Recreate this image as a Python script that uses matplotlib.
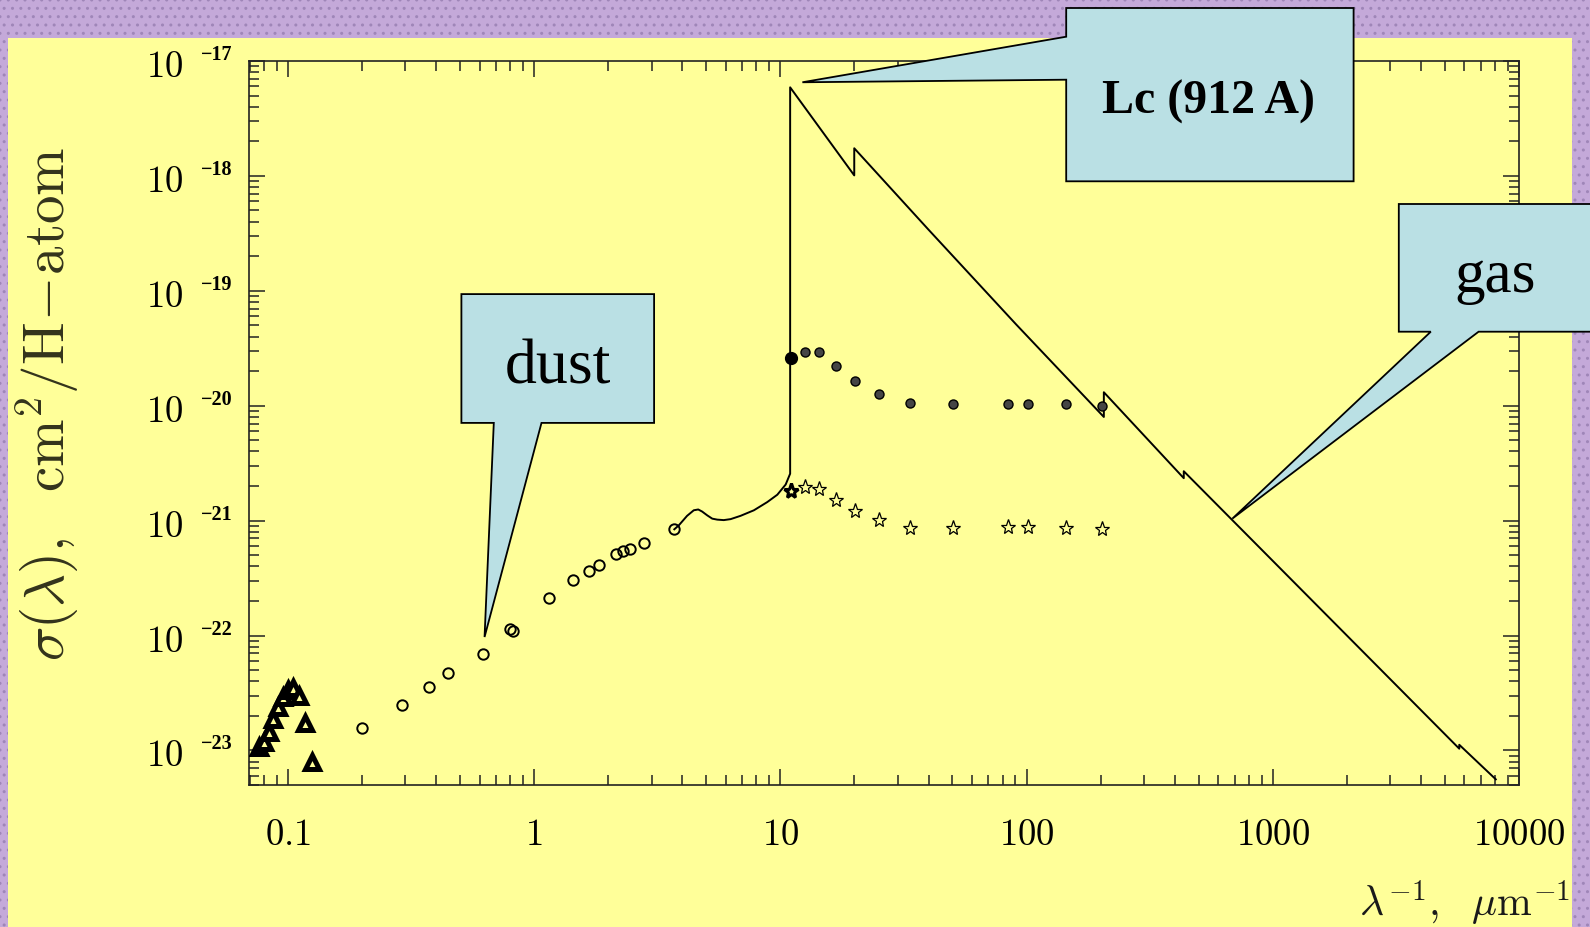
import numpy as np
import matplotlib
matplotlib.use('Agg')
import matplotlib.pyplot as plt
from matplotlib.patches import Rectangle, Polygon
from matplotlib.ticker import LogLocator, NullFormatter
from matplotlib.transforms import blended_transform_factory, offset_copy

plt.rcParams['mathtext.fontset'] = 'cm'

# --- data ----------------------------------------------------------------
# IR emission bump (triangles)
ir_x = [0.0762, 0.0798, 0.0837, 0.0869, 0.0914, 0.0955, 0.1000, 0.1048, 0.1106, 0.1178, 0.1248]
ir_y = [1.08e-23, 1.19e-23, 1.46e-23, 1.87e-23, 2.40e-23, 2.93e-23, 3.34e-23, 3.51e-23,
        2.99e-23, 1.72e-23, 7.98e-24]

# dust extinction, IR to UV (open circles)
ext_x = [0.1995, 0.2896, 0.375, 0.448, 0.618, 0.798, 0.819, 1.144, 1.432, 1.675, 1.827,
         2.157, 2.296, 2.443, 2.786, 3.71]
ext_y = [1.58e-23, 2.48e-23, 3.53e-23, 4.74e-23, 6.97e-23, 1.13e-22, 1.10e-22, 2.10e-22,
         3.07e-22, 3.62e-22, 4.08e-22, 5.09e-22, 5.41e-22, 5.71e-22, 6.35e-22, 8.4e-22]

# far-UV / soft X-ray dust points
xuv_x = [11.09, 12.6, 14.4, 16.8, 20.1, 25.2, 33.7, 50.4, 84.1, 100.9, 144.5, 202.5]
dot_y = [2.60e-20, 2.95e-20, 2.91e-20, 2.23e-20, 1.65e-20, 1.27e-20, 1.05e-20, 1.03e-20,
         1.04e-20, 1.04e-20, 1.03e-20, 9.9e-21]
star_y = [1.81e-21, 1.96e-21, 1.90e-21, 1.52e-21, 1.21e-21, 1.01e-21, 8.7e-22, 8.7e-22,
          8.8e-22, 8.8e-22, 8.7e-22, 8.5e-22]

# UV dust curve (2175 A bump) joined to the gas photoabsorption curve
# (edges: H 912 A, He, C, O, Fe)
curve_x = [3.71, 3.87, 4.18, 4.45, 4.64, 4.81, 5.05, 5.29, 5.54, 5.89, 6.28, 6.89, 7.81,
           8.85, 9.72, 10.51, 10.96, 10.96,
           19.96, 19.96, 40, 90.7, 206, 206, 435, 435, 5720, 5720, 8050]
curve_y = [8.4e-22, 9.1e-22, 1.10e-21, 1.23e-21, 1.25e-21, 1.20e-21, 1.11e-21, 1.04e-21,
           1.02e-21, 1.01e-21, 1.03e-21, 1.10e-21, 1.23e-21, 1.45e-21, 1.68e-21, 2.06e-21,
           2.56e-21, 5.9e-18,
           1.01e-18, 1.74e-18, 3.4e-19, 5.1e-20, 7.98e-21, 1.31e-20, 2.34e-21, 2.69e-21,
           1.035e-23, 1.12e-23, 5.6e-24]

x_ticks = [0.1, 1, 10, 100, 1000, 10000]
x_tick_labels = ['0.1', '1', '10', '100', '1000', '10000']
y_exponents = [-17, -18, -19, -20, -21, -22, -23]

# callouts: text and the data point each one points at
callouts = ['dust', 'Lc (912 A)', 'gas']
callout_tips = [(0.629, 9.7e-23), (12.29, 6.53e-18), (685, 1.04e-21)]

W, H = 1590, 928
YELLOW = '#ffff99'
BLUE = '#bae0e4'
PURPLE = '#c4a9d9'


def fpx(x, y):
    # pixel position (from top-left) -> figure fraction
    return (x / W, 1 - y / H)


fig = plt.figure(figsize=(W / 100, H / 100), dpi=100)
fig.patch.set_facecolor(PURPLE)

# dotted purple border and the yellow slide panel
fig.add_artist(Rectangle((0, 0), 1, 1, transform=fig.transFigure, facecolor=PURPLE,
                         edgecolor='#9f86b8', hatch='..', linewidth=0, zorder=-3))
x0, y0 = fpx(8, 928)
x1, y1 = fpx(1572, 39)
fig.add_artist(Rectangle((x0, y0), x1 - x0, y1 - y0, transform=fig.transFigure,
                         facecolor=YELLOW, edgecolor='none', zorder=-2))

ax = fig.add_axes([249 / W, 1 - 786 / H, 1270 / W, 724 / H])
ax.patch.set_alpha(0)
ax.set_xscale('log')
ax.set_yscale('log')
ax.set_xlim(0.0695, 10000)
ax.set_ylim(5e-24, 1e-17)

ax.plot(curve_x, curve_y, color='black', lw=1.4, zorder=3)
ax.plot(ir_x, ir_y, ls='none', marker='^', ms=9.5, mfc=YELLOW, mec='black', mew=3.6, zorder=4)
ax.plot(ext_x, ext_y, ls='none', marker='o', ms=7.5, mfc='none', mec='black', mew=1.4, zorder=4)
ax.plot(xuv_x, dot_y, ls='none', marker='o', ms=6.5, mfc='#454545', mec='black', mew=1.0, zorder=4)
ax.plot(xuv_x[:1], dot_y[:1], ls='none', marker='o', ms=8.5, mfc='black', mec='black', zorder=4)
ax.plot(xuv_x, star_y, ls='none', marker='*', ms=11, mfc=YELLOW, mec='black', mew=0.9, zorder=4)
ax.plot(xuv_x[:1], star_y[:1], ls='none', marker='*', ms=11, mfc=YELLOW, mec='black', mew=2.2, zorder=4)

# axes frame: ticks inside on every side, labels drawn by hand below
for sp in ax.spines.values():
    sp.set_linewidth(1.2)
    sp.set_color('#222222')
ax.xaxis.set_major_locator(LogLocator(base=10, numticks=20))
ax.yaxis.set_major_locator(LogLocator(base=10, numticks=20))
ax.xaxis.set_minor_locator(LogLocator(base=10, subs=np.arange(2, 10), numticks=100))
ax.yaxis.set_minor_locator(LogLocator(base=10, subs=np.arange(2, 10), numticks=100))
ax.xaxis.set_minor_formatter(NullFormatter())
ax.yaxis.set_minor_formatter(NullFormatter())
ax.tick_params(which='both', direction='in', top=True, right=True, width=1.1,
               color='#222222', labelbottom=False, labelleft=False)
ax.tick_params(which='major', length=11.5)
ax.tick_params(which='minor', length=7.5)

# x tick labels
tx = blended_transform_factory(ax.transData, ax.transAxes)
tx = offset_copy(tx, fig=fig, y=-49, units='dots')
for v, lab in zip(x_ticks, x_tick_labels):
    ax.text(v, 0, '$%s$' % lab, transform=tx, ha='center', va='center', fontsize=26.5,
            clip_on=False)

# y tick labels: big "10" with a small bold exponent set apart
ty = blended_transform_factory(ax.transAxes, ax.transData)
ty_base = offset_copy(ty, fig=fig, x=-66, y=-4.5, units='dots')
ty_exp = offset_copy(ty, fig=fig, x=-48, y=7, units='dots')
for e in y_exponents:
    ax.text(0, 10.0 ** e, '$10$', transform=ty_base, ha='right', va='center', fontsize=26.5,
            clip_on=False)
    ax.text(0, 10.0 ** e, '\u2212%d' % -e, transform=ty_exp, ha='left', va='center',
            fontsize=14.5, fontweight='bold', family='Liberation Serif', clip_on=False)

# axis titles
fig.text(47 / W, 1 - 404 / H, r'$\sigma(\lambda),\ \ \mathrm{cm}^2/\mathrm{H\!-\!atom}$',
         rotation=90, ha='center', va='center', fontsize=41, color='#33331c')
fig.text(1570 / W, 1 - 917 / H, r'$\lambda^{-1},\ \ \mu\mathrm{m}^{-1}$',
         ha='right', va='baseline', fontsize=30, color='#1a1a1a')

# --- callout boxes -------------------------------------------------------
tips = []
for tip in callout_tips:
    d = ax.transData.transform(tip)
    tips.append(tuple(fig.transFigure.inverted().transform(d)))

dust_poly = [fpx(461.4, 295.1), fpx(654.1, 295.1), fpx(654.1, 423.9), fpx(541.5, 423.9),
             tips[0], fpx(493.8, 423.9), fpx(461.4, 423.9)]
lc_poly = [fpx(1066.2, 9), fpx(1353.6, 9), fpx(1353.6, 182.3), fpx(1066.2, 182.3),
           fpx(1066.2, 80.7), tips[1], fpx(1066.2, 37.7)]
gas_poly = [fpx(1398.8, 205), fpx(1620, 205), fpx(1620, 332.7), fpx(1478.6, 332.7),
            tips[2], fpx(1430.8, 332.7), fpx(1398.8, 332.7)]

for poly in [dust_poly, lc_poly, gas_poly]:
    fig.add_artist(Polygon(poly, closed=True, transform=fig.transFigure, facecolor=BLUE,
                           edgecolor='black', linewidth=1.3, joinstyle='miter', zorder=5))

fig.text(*fpx(558.2, 383.3), callouts[0], ha='center', va='baseline', fontsize=46,
         family='Liberation Serif', zorder=6)
fig.text(*fpx(1209, 113.3), callouts[1], ha='center', va='baseline', fontsize=34.5,
         family='Liberation Serif', fontweight='bold', zorder=6)
fig.text(*fpx(1495.6, 291.7), callouts[2], ha='center', va='baseline', fontsize=44,
         family='Liberation Serif', zorder=6)

fig.savefig('out.png', dpi=100, facecolor=fig.get_facecolor())
